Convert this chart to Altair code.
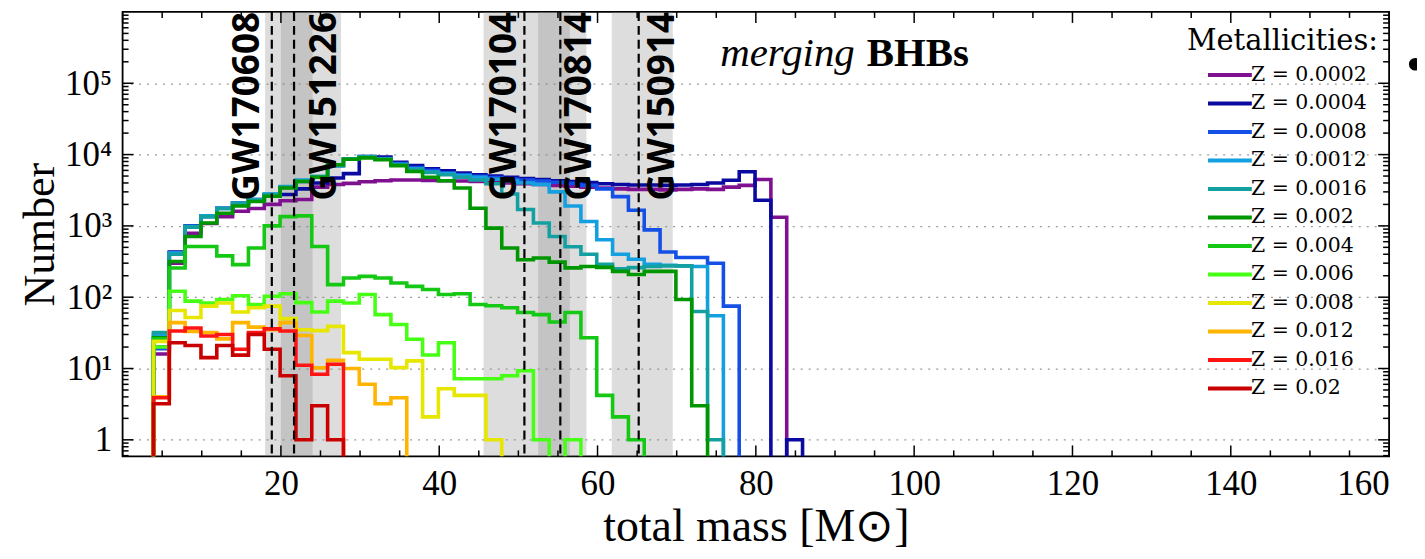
import altair as alt
import pandas as pd

# ---------------- data ----------------
labels = ["Z = 0.0002", "Z = 0.0004", "Z = 0.0008", "Z = 0.0012", "Z = 0.0016", "Z = 0.002",
          "Z = 0.004", "Z = 0.006", "Z = 0.008", "Z = 0.012", "Z = 0.016", "Z = 0.02"]
colors = ["#7f1190", "#0a0aa0", "#1450e6", "#14a0e0", "#14a0a0", "#009600",
          "#14c814", "#46ff14", "#e6e600", "#ffb400", "#ff1414", "#c80000"]

bin_start = 3.9   # left edge of first bin [Msun]
bin_width = 2.0   # bin width [Msun]

counts_z0002 = [16, 300, 790, 1080, 1350, 1600, 1750, 2000, 2250, 2350, 3500, 3800, 3950, 4150, 4300, 4400,
                4400, 4350, 4300, 4250, 4200, 4100, 4000, 3900, 3800, 3700, 3600, 3500, 3400, 3300, 3250,
                3250, 3200, 3250, 3300, 3250, 3500, 3700, 4470, 1320]
counts_z0004 = [20, 430, 1000, 1380, 1770, 2090, 2350, 2700, 2750, 3300, 4000, 4700, 5400, 9400, 9200, 7800,
                7000, 6300, 5900, 5500, 5200, 5000, 4800, 4600, 4450, 4300, 4200, 4050, 3900, 3800, 3740,
                3740, 3700, 3740, 3800, 4000, 4370, 5750, 2290, 0, 1]
counts_z0008 = [19, 420, 980, 1350, 1750, 2050, 2300, 2750, 3450, 4200, 4800, 7000, 8600, 9300, 8800, 7500,
                6600, 6000, 5500, 5200, 4950, 4750, 4550, 4400, 4250, 4100, 3950, 3700, 3300, 2570, 1660,
                880, 430, 360, 360, 300, 75]
counts_z0012 = [30, 415, 990, 1380, 1770, 2090, 2350, 2800, 3550, 4400, 4900, 7100, 8700, 9400, 8700, 7300,
                6300, 5700, 5400, 5100, 4800, 4500, 4300, 4000, 3800, 3000, 1900, 1150, 640, 400, 340,
                290, 280, 275, 270, 55]
counts_z0016 = [32, 400, 960, 1350, 1750, 2050, 2300, 2750, 3500, 4300, 4900, 7000, 8600, 9300, 8600, 7200,
                6200, 5600, 5200, 4800, 4400, 3900, 2800, 1700, 1100, 710, 510, 400, 290, 250, 260,
                270, 275, 275, 63, 1]
counts_z002 = [27, 317, 710, 1100, 1500, 1900, 2200, 2600, 3400, 4200, 4800, 7200, 8600, 9000, 8500, 7000,
               5800, 4800, 4300, 3400, 1770, 930, 490, 335, 355, 310, 258, 270, 262, 230, 208,
               230, 230, 93, 3]
counts_z004 = [26, 257, 514, 514, 380, 286, 490, 1000, 1350, 1380, 515, 150, 186, 196, 186, 158,
               142, 128, 109, 112, 79, 76, 71, 61, 57, 45, 61, 27, 4.2, 2.1, 1]
counts_z006 = [20, 121, 88, 83, 93, 105, 79, 103, 112, 84, 62, 88, 83, 109, 57, 41.5,
               25.7, 15.5, 23, 7.2, 7.2, 7.2, 7.9, 9.3, 1, 0, 1]
counts_z008 = [24, 65, 52, 75, 83, 62, 71, 75, 50, 35, 34, 39, 16.7, 13.5, 13.5, 10.3,
               12.8, 2.1, 5.2, 4.2, 4.2, 1]
counts_z012 = [4, 44, 33, 32, 26, 44, 38, 35, 44, 29, 10.2, 13, 10, 6, 3.2, 3.9]
counts_z016 = [3.9, 33.5, 37, 28.6, 30, 18.6, 32, 36, 33.5, 11.1, 8.3, 11.5]
counts_z02 = [3.2, 23, 21, 14.2, 21, 15.4, 30, 18.6, 7.9, 1, 3, 1]

series_counts = [counts_z0002, counts_z0004, counts_z0008, counts_z0012, counts_z0016, counts_z002,
                 counts_z004, counts_z006, counts_z008, counts_z012, counts_z016, counts_z02]

# GW events: name, total mass (dashed line), band low, band high, label centre
gw_names = ["GW170608", "GW151226", "GW170104", "GW170814", "GW150914"]
gw_mass = [18.85, 21.66, 50.76, 55.3, 65.2]
gw_low = [18.0, 20.0, 45.6, 52.5, 61.8]
gw_high = [24.0, 27.6, 56.5, 58.6, 69.5]
gw_label_x = [15.9, 25.6, 48.3, 57.8, 68.3]

x_tick_labels = [20, 40, 60, 80, 100, 120, 140, 160]
y_tick_values = [1, 10, 100, 1000, 10000, 100000]

# ---------------- build tables ----------------
FLOOR = 0.05  # stands for an empty bin on the log axis (clipped)
rows = []
for lab, cnts in zip(labels, series_counts):
    edges = [bin_start + bin_width * k for k in range(len(cnts) + 1)]
    rows.append(dict(series=lab, x=edges[0], y=FLOOR, i=0))
    for k, c in enumerate(cnts):
        rows.append(dict(series=lab, x=edges[k], y=c if c > 0 else FLOOR, i=k + 1))
    rows.append(dict(series=lab, x=edges[-1], y=FLOOR, i=len(cnts) + 1))
hist_df = pd.DataFrame(rows)

gw_df = pd.DataFrame(dict(name=gw_names, m=gw_mass, lo=gw_low, hi=gw_high, lx=gw_label_x,
                          top=[1e6] * len(gw_names)))

x_major = list(range(0, 161, 20))
x_minor = [v for v in range(5, 160, 5) if v % 20 != 0]
y_major = y_tick_values
y_minor = [k * 10.0 ** d for d in range(-1, 6) for k in range(2, 10) if 0.586 < k * 10.0 ** d < 1e6]

W, H = 1271, 446
xscale = alt.Scale(domain=[0, 160], nice=False, zero=False)
yscale = alt.Scale(type="log", domain=[0.586, 1e6], nice=False)

serif = "Liberation Serif"
xaxis = alt.Axis(values=x_tick_labels, ticks=False, grid=False, domain=False, format="d",
                 labelFont=serif, labelFontSize=35, labelPadding=10, labelColor="black",
                 title="total mass [M⊙]", titleFont=serif, titleFontSize=46, titleFontWeight="normal",
                 titlePadding=3, titleColor="black")
yaxis = alt.Axis(values=y_tick_values, ticks=False, domain=False, grid=True,
                 gridDash=[2, 6], gridColor="#9a9a9a", gridWidth=1.3,
                 labelExpr="datum.value == 1 ? '1' : datum.value == 10 ? '10¹' : datum.value == 100 ? '10²' : datum.value == 1000 ? '10³' : datum.value == 10000 ? '10⁴' : '10⁵'",
                 labelFont=serif, labelFontSize=35, labelPadding=11, labelColor="black",
                 title="Number", titleFont=serif, titleFontSize=44, titleFontWeight="normal",
                 titlePadding=2, titleColor="black")

X = lambda f: alt.X(f, scale=xscale, axis=xaxis)
Y = lambda f: alt.Y(f, scale=yscale, axis=yaxis)

bands = alt.Chart(gw_df).mark_rect(color="#808080", opacity=0.27).encode(
    x=X("lo:Q"), x2="hi:Q", y=alt.value(0), y2=alt.value(H))

lines = alt.Chart(hist_df).mark_line(interpolate="step-after", strokeWidth=3.6, clip=True).encode(
    x=X("x:Q"), y=Y("y:Q"),
    color=alt.Color("series:N", scale=alt.Scale(domain=labels, range=colors),
                    legend=alt.Legend(title="Metallicities:", orient="none", legendX=1068, legendY=15,
                                      titleFont="DejaVu Serif", titleFontSize=29, titleFontWeight="normal",
                                      titleColor="black", titleAnchor="middle", titlePadding=9,
                                      titleLimit=400, labelLimit=400,
                                      labelFont="DejaVu Serif", labelFontSize=20.5, labelColor="black",
                                      symbolType="M0,0H8", symbolSize=121, symbolStrokeWidth=4,
                                      symbolOffset=-1, labelOffset=33, rowPadding=7.6, padding=0)),
    order="i:Q")

dashes = alt.Chart(gw_df).mark_rule(color="black", strokeWidth=2.2, strokeDash=[9, 5]).encode(
    x=X("m:Q"), y=alt.value(0), y2=alt.value(H))

gw_text = alt.Chart(gw_df).mark_text(angle=270, align="right", baseline="middle", font="Open Sans",
                                     fontWeight="bold", fontSize=37, color="black").encode(
    x=X("lx:Q"), y=Y("top:Q"), text="name:N")

title_df = pd.DataFrame(dict(a=["merging"], b=["BHBs"], xa=[92.5], xb=[94.0], yt=[1.75e5]))
merging = alt.Chart(title_df).mark_text(align="right", baseline="alphabetic", font="Liberation Serif",
                                        fontStyle="italic", fontSize=41, color="black").encode(
    x=X("xa:Q"), y=Y("yt:Q"), text="a:N")
bhbs = alt.Chart(title_df).mark_text(align="left", baseline="alphabetic", font="Liberation Serif",
                                     fontWeight="bold", fontSize=41, color="black").encode(
    x=X("xb:Q"), y=Y("yt:Q"), text="b:N")

bullet_df = pd.DataFrame(dict(x=[163.3], y=[1.85e5]))
bullet = alt.Chart(bullet_df).mark_point(filled=True, color="black", size=160, opacity=1).encode(
    x=X("x:Q"), y=Y("y:Q"))

def tick_layer(vals, axis, side, length):
    df = pd.DataFrame(dict(v=vals))
    m = alt.Chart(df).mark_rule(color="black", strokeWidth=1.5)
    if axis == "x":
        y0 = H if side == "bottom" else 0
        y1 = H - length if side == "bottom" else length
        return m.encode(x=X("v:Q"), y=alt.value(y0), y2=alt.value(y1))
    x0 = 0 if side == "left" else W
    x1 = length if side == "left" else W - length
    return m.encode(y=Y("v:Q"), x=alt.value(x0), x2=alt.value(x1))

ticks = [tick_layer(x_major, "x", "bottom", 11), tick_layer(x_major, "x", "top", 11),
         tick_layer(x_minor, "x", "bottom", 6), tick_layer(x_minor, "x", "top", 6),
         tick_layer(y_major, "y", "left", 11), tick_layer(y_major, "y", "right", 11),
         tick_layer(y_minor, "y", "left", 6), tick_layer(y_minor, "y", "right", 6)]

chart = alt.layer(bands, lines, dashes, gw_text, merging, bhbs, bullet, *ticks).properties(
    width=W, height=H,
    padding={"left": 115, "top": 3, "right": 28, "bottom": 94},
    autosize=alt.AutoSizeParams(type="none"),
).configure_view(stroke="black", strokeWidth=1.8
).configure_axis(labelFont=serif, titleFont=serif
).configure_legend(labelFont="DejaVu Serif", titleFont="DejaVu Serif")

chart.save("out.html", embed_options={"renderer": "svg", "actions": False})
